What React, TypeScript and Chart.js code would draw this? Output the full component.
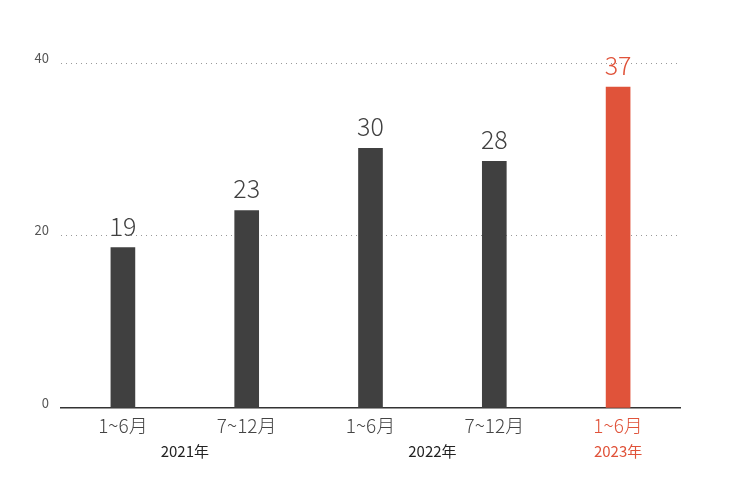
import React, { useEffect, useRef } from "react";
import { Chart, registerables } from "chart.js";

Chart.register(...registerables);

const categories = ["1~6月", "7~12月", "1~6月", "7~12月", "1~6月"];
const values = [18.6, 22.9, 30.1, 28.6, 37.2];
const valueLabels = ["19", "23", "30", "28", "37"];
const yearLabels = ["2021年", "2022年", "2023年"];
const yearSpans = [[0, 1], [2, 3], [4, 4]];
const highlight = [false, false, false, false, true];

const DARK = "#404040";
const RED = "#E0533A";
const FONT = "'Noto Sans CJK JP', 'Noto Sans', sans-serif";

export default function App() {
  const ref = useRef<HTMLCanvasElement | null>(null);

  useEffect(() => {
    document.body.style.margin = "0";
    const canvas = ref.current!;
    const labelPlugin = {
      id: "labels",
      afterDatasetsDraw(chart: any) {
        const ctx = chart.ctx;
        const meta = chart.getDatasetMeta(0);
        ctx.save();
        ctx.textAlign = "center";
        ctx.textBaseline = "alphabetic";
        ctx.font = `300 25px ${FONT}`;
        meta.data.forEach((bar: any, i: number) => {
          ctx.fillStyle = highlight[i] ? RED : DARK;
          ctx.fillText(valueLabels[i], bar.x, bar.y - 12);
        });
        const xs = chart.scales.x;
        ctx.font = `400 15px ${FONT}`;
        yearSpans.forEach((span, j) => {
          const x = (xs.getPixelForValue(span[0]) + xs.getPixelForValue(span[1])) / 2;
          ctx.fillStyle = highlight[span[1]] ? RED : "#222";
          ctx.fillText(yearLabels[j], x, 457);
        });
        ctx.restore();
      },
    };

    const chart = new Chart(canvas, {
      type: "bar",
      data: {
        labels: categories,
        datasets: [
          {
            data: values,
            backgroundColor: highlight.map((h) => (h ? RED : DARK)),
            barThickness: 24,
          },
        ],
      },
      options: {
        animation: false,
        responsive: false,
        maintainAspectRatio: false,
        layout: { padding: { top: 63, right: 62, left: 0, bottom: 0 } },
        plugins: { legend: { display: false }, tooltip: { enabled: false } },
        scales: {
          x: {
            grid: { display: false, drawTicks: false },
            border: { display: true, color: "#333", width: 1.5 },
            ticks: {
              padding: 6,
              font: { family: FONT, size: 19, weight: 300 },
              color: (c: any) => (highlight[c.index] ? RED : "#444"),
            },
            afterFit: (s: any) => {
              s.height = 87;
            },
          },
          y: {
            min: 0,
            max: 40,
            ticks: {
              stepSize: 20,
              padding: 12,
              labelOffset: -5,
              font: { family: FONT, size: 13 },
              color: "#555",
            },
            grid: {
              drawTicks: false,
              color: (c: any) => (c.tick && c.tick.value === 0 ? "rgba(0,0,0,0)" : "#999"),
              lineWidth: 1,
            },
            border: { display: false, dash: [1, 4] },
            afterFit: (s: any) => {
              s.width = 61;
            },
          },
        },
      },
      plugins: [labelPlugin],
    } as any);
    return () => chart.destroy();
  }, []);

  return (
    <div style={{ position: "absolute", left: 0, top: 0, width: 742, height: 495 }}>
      <canvas ref={ref} width={742} height={495} style={{ width: 742, height: 495 }} />
    </div>
  );
}
